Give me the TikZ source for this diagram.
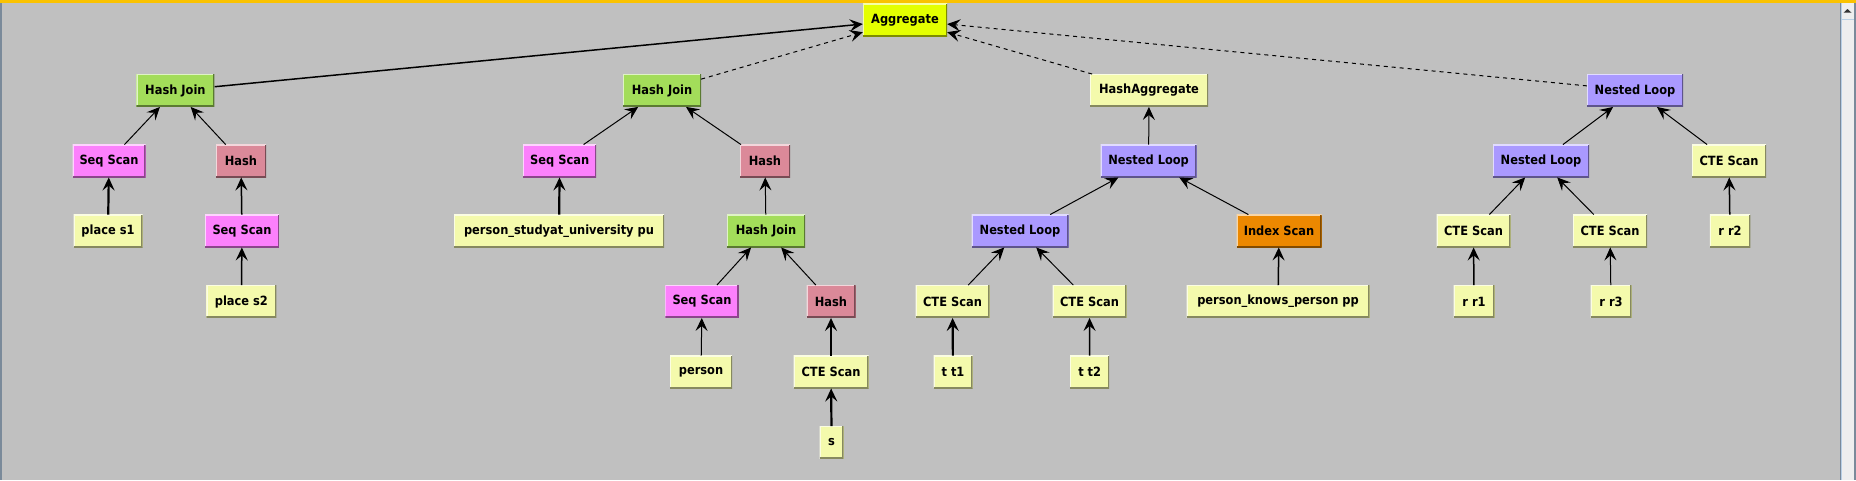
\documentclass[tikz,border=0pt]{standalone}
\usepackage{fontspec}
\usetikzlibrary{arrows.meta}
\newfontfamily\nodefont{DejaVu Sans Condensed}[BoldFont={DejaVu Sans Condensed Bold}]
\definecolor{bgc}{RGB}{192,192,192}
\definecolor{topbar}{RGB}{250,194,0}
\definecolor{slate}{RGB}{122,138,154}
\definecolor{sbtrack}{RGB}{238,238,238}
\definecolor{sbblue}{RGB}{184,207,229}
\definecolor{caggr}{RGB}{228,255,0}
\definecolor{cgreen}{RGB}{163,221,90}
\definecolor{cpink}{RGB}{252,128,252}
\definecolor{crose}{RGB}{219,137,153}
\definecolor{cpale}{RGB}{244,250,172}
\definecolor{clav}{RGB}{170,153,255}
\definecolor{corange}{RGB}{236,136,0}
\tikzset{
  plannode/.style={rectangle, inner sep=2pt, minimum height=32.5pt,
    font=\nodefont\bfseries\fontsize{12.7}{14}\selectfont, text=black, fill=#1,
    path picture={
      \draw[line width=2.2pt, #1!35!white]
        (path picture bounding box.south west) -- (path picture bounding box.north west)
        -- (path picture bounding box.north east);
      \draw[line width=2.6pt, #1!55!black]
        (path picture bounding box.south west) -- (path picture bounding box.south east)
        -- (path picture bounding box.north east);
    }},
  agg/.style={plannode=caggr},
  grn/.style={plannode=cgreen},
  pnk/.style={plannode=cpink},
  ros/.style={plannode=crose},
  pal/.style={plannode=cpale},
  lav/.style={plannode=clav},
  org/.style={plannode=corange},
  edge/.style={draw=black, line width=1pt, -{Stealth[length=13pt,width=12pt,inset=5pt]}},
  midedge/.style={edge, line width=1.5pt},
  thickedge/.style={edge, line width=2.2pt},
  dashedge/.style={edge, dash pattern=on 4pt off 4pt},
}
\begin{document}
\begin{tikzpicture}[x=1pt,y=-1pt]
\useasboundingbox (0,0) rectangle (1856,480);
\fill[bgc] (0,0) rectangle (1856,480);
\fill[topbar] (0,0) rectangle (1856,3);
\fill[slate] (0,3) rectangle (1.5,480);
% scrollbar
\fill[slate] (1839.5,3) rectangle (1841,480);
\fill[sbblue] (1841,3) rectangle (1842.2,480);
\fill[sbtrack] (1842.2,3) rectangle (1854,480);
\fill[slate] (1854,3) rectangle (1856,480);
\fill[sbtrack] (1842.2,4) rectangle (1854,19);
\fill[sbblue] (1842.2,19) rectangle (1854,20.2);
\fill[black!80] (1843.5,12.7) -- (1847.5,9) -- (1851.5,12.7) -- cycle;

% nodes
\node[agg, minimum width=84pt] (agg) at (905,20) {Aggregate};

\node[grn, minimum width=78pt] (hj1) at (175.4,90.5) {Hash Join};
\node[pnk, minimum width=73pt] (ss1) at (109,161) {Seq Scan};
\node[ros, minimum width=50pt] (h1) at (241,161) {Hash};
\node[pal, minimum width=69pt] (ps1) at (108,231) {place s1};
\node[pnk, minimum width=73.6pt] (ss2) at (242,231) {Seq Scan};
\node[pal, minimum width=70pt] (ps2) at (241.4,301.5) {place s2};

\node[grn, minimum width=78pt] (hj2) at (662,90.5) {Hash Join};
\node[pnk, minimum width=73pt] (ss3) at (559.7,161) {Seq Scan};
\node[pal, minimum width=210pt] (psu) at (559,231) {person\_studyat\_university pu};
\node[ros, minimum width=50pt] (h2) at (765,161) {Hash};
\node[grn, minimum width=78pt] (hj3) at (766,231) {Hash Join};
\node[pnk, minimum width=73.5pt] (ss4) at (702,301.5) {Seq Scan};
\node[ros, minimum width=49pt] (h3) at (831,301.5) {Hash};
\node[pal, minimum width=62pt] (per) at (701,372) {person};
\node[pal, minimum width=75pt] (cte1) at (831,372) {CTE Scan};
\node[pal, minimum width=24pt] (s) at (831.6,442.5) {s};

\node[pal, minimum width=118pt] (hagg) at (1149,90.5) {HashAggregate};
\node[lav, minimum width=96pt] (nl1) at (1148.6,161) {Nested Loop};
\node[lav, minimum width=97pt] (nl2) at (1020,231) {Nested Loop};
\node[org, minimum width=85pt] (idx) at (1279,231) {Index Scan};
\node[pal, minimum width=74pt] (cte2) at (952.5,301.5) {CTE Scan};
\node[pal, minimum width=74pt] (cte3) at (1089.5,301.5) {CTE Scan};
\node[pal, minimum width=39pt] (tt1) at (953,372) {t t1};
\node[pal, minimum width=39pt] (tt2) at (1089.7,372) {t t2};
\node[pal, minimum width=183pt] (pkp) at (1278,301.5) {person\_knows\_person pp};

\node[lav, minimum width=96pt] (nl3) at (1635,90.5) {Nested Loop};
\node[lav, minimum width=96pt] (nl4) at (1541,161) {Nested Loop};
\node[pal, minimum width=74pt] (cte4) at (1729,161) {CTE Scan};
\node[pal, minimum width=74pt] (cte5) at (1473.5,231) {CTE Scan};
\node[pal, minimum width=74pt] (cte6) at (1610,231) {CTE Scan};
\node[pal, minimum width=40.5pt] (rr2) at (1730,231) {r r2};
\node[pal, minimum width=41pt] (rr1) at (1474,301.5) {r r1};
\node[pal, minimum width=41pt] (rr3) at (1611,301.5) {r r3};

% edges (child -> parent)
\draw[midedge] (hj1) -- (agg);
\draw[dashedge] (hj2) -- (agg);
\draw[dashedge] (hagg) -- (agg);
\draw[dashedge] (nl3) -- (agg);

\draw[edge] (ss1) -- (hj1);
\draw[edge] (h1) -- (hj1);
\draw[thickedge] (ps1) -- (ss1);
\draw[midedge] (ss2) -- (h1);
\draw[midedge] (ps2) -- (ss2);

\draw[edge] (ss3) -- (hj2);
\draw[edge] (h2) -- (hj2);
\draw[thickedge] (psu) -- (ss3);
\draw[edge] (hj3) -- (h2);
\draw[edge] (ss4) -- (hj3);
\draw[edge] (h3) -- (hj3);
\draw[edge] (per) -- (ss4);
\draw[thickedge] (cte1) -- (h3);
\draw[thickedge] (s) -- (cte1);

\draw[edge] (nl1) -- (hagg);
\draw[edge] (nl2) -- (nl1);
\draw[edge] (idx) -- (nl1);
\draw[edge] (cte2) -- (nl2);
\draw[edge] (cte3) -- (nl2);
\draw[thickedge] (tt1) -- (cte2);
\draw[midedge] (tt2) -- (cte3);
\draw[midedge] (pkp) -- (idx);

\draw[edge] (nl4) -- (nl3);
\draw[edge] (cte4) -- (nl3);
\draw[edge] (cte5) -- (nl4);
\draw[edge] (cte6) -- (nl4);
\draw[midedge] (rr2) -- (cte4);
\draw[midedge] (rr1) -- (cte5);
\draw[edge] (rr3) -- (cte6);
\end{tikzpicture}
\end{document}
